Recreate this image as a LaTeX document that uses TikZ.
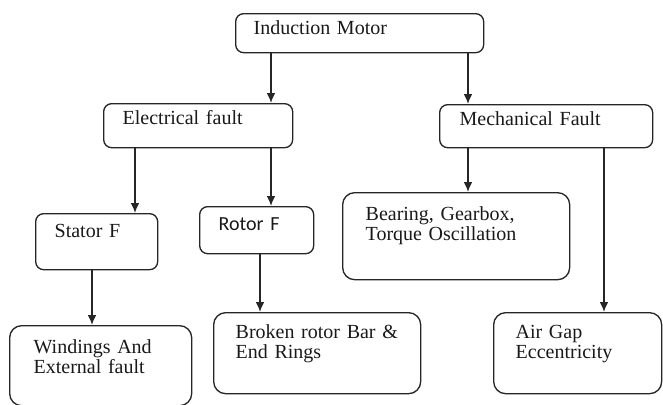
\documentclass[tikz,border=0pt]{standalone}
\usepackage{fontspec}
\setmainfont{Liberation Serif}
\newfontfamily\rotorfont{Carlito}
\usetikzlibrary{arrows.meta}

\tikzset{
  faultbox/.style={draw=black!85, line width=1pt, rounded corners=6pt,
    anchor=north west, align=left, inner ysep=0pt, text=black!90,
    font=\fontsize{15}{15}\selectfont},
  bigbox/.style={faultbox, rounded corners=9pt},
  flow/.style={draw=black!85, line width=1.05pt, -{Latex[length=7.5pt,width=6.5pt]}}
}

\begin{document}
\begin{tikzpicture}[x=0.75pt,y=-0.75pt]
  \useasboundingbox (0,0) rectangle (663,404);
  \clip (0,0) rectangle (663,404);

  % boxes
  \node[faultbox, inner xsep=13.5pt, text width=159pt, text height=15.75pt, text depth=13.5pt]
    (motor) at (235,13) {Induction Motor};
  \node[faultbox, inner xsep=14.25pt, text width=113.25pt, text height=15.75pt, text depth=17.25pt]
    (elec) at (103,103) {Electrical fault};
  \node[faultbox, inner xsep=15pt, text width=129.75pt, text height=15.75pt, text depth=16.5pt]
    (mech) at (439,104) {Mechanical Fault};
  \node[faultbox, inner xsep=14.25pt, text width=63pt, text height=18pt, text depth=24pt]
    (stator) at (35,213) {Stator F};
  \node[faultbox, inner xsep=14.25pt, text width=57pt, text height=18pt, text depth=17.25pt,
    font=\rotorfont\fontsize{15}{15}\selectfont]
    (rotor) at (199,206) {Rotor F};
  \node[bigbox, inner xsep=17.25pt, text width=135.75pt, text height=21pt, text depth=44.25pt]
    (bearing) at (342,192) {Bearing, Gearbox,\\Torque Oscillation};
  \node[bigbox, inner xsep=18pt, text width=100.5pt, text height=21pt, text depth=39pt]
    (winding) at (9,325) {Windings And\\External fault};
  \node[bigbox, inner xsep=16.5pt, text width=122.25pt, text height=19.5pt, text depth=41.25pt]
    (broken) at (213,312) {Broken rotor Bar \&\\End Rings};
  \node[bigbox, inner xsep=16.5pt, text width=93pt, text height=19.5pt, text depth=41.25pt]
    (airgap) at (493,312) {Air Gap\\Eccentricity};

  % lanes for the arrows
  \coordinate (laneA) at (271,0);
  \coordinate (laneB) at (468,0);
  \coordinate (laneC) at (135,0);
  \coordinate (laneD) at (92,0);
  \coordinate (laneE) at (260,0);
  \coordinate (laneF) at (604,0);

  % arrows
  \draw[flow] (motor.south -| laneA) -- (elec.north -| laneA);
  \draw[flow] (motor.south -| laneB) -- (mech.north -| laneB);
  \draw[flow] (elec.south -| laneC) -- (stator.north -| laneC);
  \draw[flow] (elec.south -| laneA) -- (rotor.north -| laneA);
  \draw[flow] (mech.south -| laneB) -- (bearing.north -| laneB);
  \draw[flow] (mech.south -| laneF) -- (airgap.north -| laneF);
  \draw[flow] (stator.south -| laneD) -- (winding.north -| laneD);
  \draw[flow] (rotor.south -| laneE) -- (broken.north -| laneE);
\end{tikzpicture}
\end{document}
